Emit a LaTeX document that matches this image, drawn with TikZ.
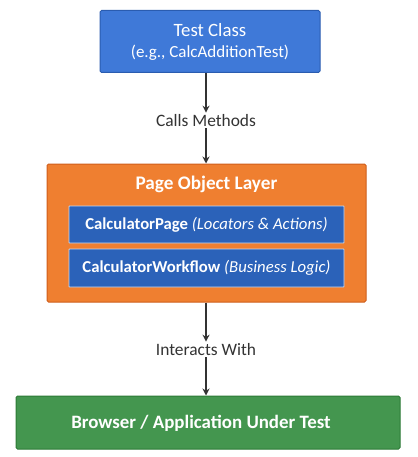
\documentclass[tikz,border=0pt]{standalone}
\usepackage{fontspec}
\setmainfont{Carlito}
\usetikzlibrary{arrows.meta}
\definecolor{topblue}{HTML}{3F79D8}
\definecolor{topblueb}{HTML}{2A5CB0}
\definecolor{orangef}{HTML}{EF7F30}
\definecolor{orangeb}{HTML}{CF5E1C}
\definecolor{innerblue}{HTML}{2B62B9}
\definecolor{innerb}{HTML}{C9D8EE}
\definecolor{greenf}{HTML}{44964F}
\definecolor{greenb}{HTML}{2C7A36}
\definecolor{arrowc}{HTML}{333333}
\tikzset{
  box/.style={rectangle, rounded corners=1.5pt, line width=1pt, text=white, align=center, inner sep=0pt},
  lbl/.style={font=\fontsize{17.4}{20}\selectfont, text=arrowc, inner sep=1.5pt, fill=white},
  arr/.style={-{Stealth[length=7pt,width=7pt]}, line width=1.4pt, draw=arrowc}
}
\begin{document}
\begin{tikzpicture}[x=1pt,y=1pt]
\useasboundingbox (0,0) rectangle (417,-457);
\node[box, fill=topblue, draw=topblueb, minimum width=220, minimum height=62] (test) at (210,-41.5) {};
\node[text=white, font=\fontsize{18.8}{22}\selectfont, inner sep=0pt] (testtitle) at (210,-30) {Test Class};
\node[text=white, font=\fontsize{17}{20}\selectfont, inner sep=0pt] (testsub) at (210,-52.5) {(e.g., CalcAdditionTest)};
\node[box, fill=orangef, draw=orangeb, minimum width=319, minimum height=138] (pol) at (206.5,-233) {};
\node[text=white, font=\fontsize{19.2}{22}\selectfont\bfseries, inner sep=0pt] (poltitle) at (206.5,-184.5) {Page Object Layer};
\node[box, fill=innerblue, draw=innerb, line width=0.8pt, rounded corners=0.5pt, minimum width=275, minimum height=37, font=\fontsize{16.7}{20}\selectfont] (cp) at (206.5,-224.5)
  {\textbf{CalculatorPage} \textit{(Locators \& Actions)}};
\node[box, fill=innerblue, draw=innerb, line width=0.8pt, rounded corners=0.5pt, minimum width=275, minimum height=38, font=\fontsize{16.7}{20}\selectfont] (cw) at (206.5,-268)
  {\textbf{CalculatorWorkflow} \textit{(Business Logic)}};
\node[box, fill=greenf, draw=greenb, minimum width=384, minimum height=53] (app) at (208,-422.5) {};
\node[text=white, font=\fontsize{18.9}{22}\selectfont\bfseries, inner sep=0pt] (apptext) at (201,-423) {Browser / Application Under Test};
\node[lbl] (calls) at (206,-120.5) {Calls Methods};
\node[lbl] (inter) at (206,-349.5) {Interacts With};
\draw[arr] (test.south -| calls) -- (calls.north);
\draw[arr] (calls.south) -- (pol.north -| calls);
\draw[arr] (pol.south -| inter) -- (inter.north);
\draw[arr] (inter.south) -- (app.north -| inter);
\end{tikzpicture}
\end{document}
